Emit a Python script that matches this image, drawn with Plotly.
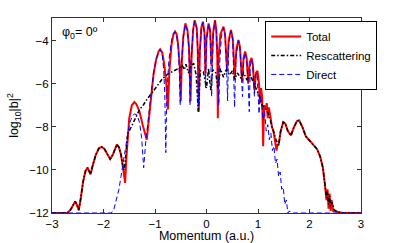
import plotly.graph_objects as go

# Rescattering (black dash-dot)
resc_x = [-3.0, -2.70, -2.64, -2.58, -2.55, -2.52, -2.48, -2.44, -2.40, -2.35, -2.31, -2.28, -2.25, -2.21,
          -2.15, -2.09, -2.04, -1.99, -1.93, -1.87, -1.82, -1.77, -1.74, -1.70, -1.66, -1.62, -1.60, -1.57,
          -1.53, -1.48, -1.44, -1.38, -1.30, -1.23, -1.15, -1.05, -0.95, -0.85, -0.75, -0.65, -0.55, -0.47,
          -0.43, -0.40, -0.35, -0.30, -0.25, -0.20, -0.16, -0.12, -0.06, 0.0, 0.04, 0.08, 0.12, 0.18, 0.22,
          0.27, 0.33, 0.38, 0.45, 0.50, 0.55, 0.60, 0.67, 0.72, 0.78, 0.85, 0.92, 0.98, 1.03, 1.08, 1.13,
          1.18, 1.22, 1.26, 1.30, 1.35, 1.40, 1.44, 1.49, 1.53, 1.58, 1.64, 1.70, 1.76, 1.80, 1.86, 1.93,
          2.01, 2.09, 2.15, 2.21, 2.26, 2.30, 2.33, 2.35, 2.37, 2.39, 2.41, 2.44, 2.48, 2.55, 2.65, 3.0]
resc_y = [-12, -12, -11.85, -11.55, -11.46, -11.6, -11.87, -11.3, -10.6, -10.05, -9.9, -10.05, -10.2, -9.8,
          -9.3, -9.0, -8.93, -9.0, -9.25, -9.5, -9.3, -8.95, -8.82, -8.95, -9.3, -9.9, -10.0, -9.4,
          -8.3, -8.1, -7.9, -7.6, -7.2, -7.0, -6.7, -6.4, -6.05, -5.75, -5.55, -5.42, -5.3, -5.15,
          -5.35, -5.1, -5.5, -5.2, -5.05, -5.6, -7.3, -5.4, -5.45, -6.2, -5.3, -6.3, -5.35, -5.5, -6.2,
          -5.3, -5.7, -5.35, -5.6, -5.4, -5.8, -5.5, -5.75, -5.5, -5.8, -5.6, -6.0, -6.3, -6.6, -7.0, -7.1,
          -7.3, -7.5, -7.9, -8.2, -8.6, -8.85, -8.2, -7.78, -7.85, -8.2, -8.4, -8.0, -7.72, -7.7, -8.0, -8.45,
          -8.65, -8.85, -9.05, -9.4, -9.9, -10.7, -11.3, -11.0, -11.6, -11.2, -11.7, -11.5, -11.85, -11.95, -12, -12]

# Total (red solid)
total_x = [-3.0, -2.70, -2.64, -2.58, -2.55, -2.52, -2.48, -2.44, -2.40, -2.35, -2.31, -2.28, -2.25, -2.21,
           -2.15, -2.09, -2.04, -1.99, -1.93, -1.87, -1.82, -1.77, -1.74, -1.70, -1.66, -1.62,
           -1.60, -1.58, -1.56, -1.53, -1.50, -1.45, -1.40, -1.36, -1.30, -1.24, -1.19, -1.16, -1.13, -1.08,
           -1.03, -0.98, -0.93, -0.90, -0.86, -0.82, -0.78, -0.75, -0.72, -0.68, -0.64, -0.61, -0.58, -0.55,
           -0.52, -0.50, -0.48, -0.45, -0.41, -0.37, -0.34, -0.31, -0.29, -0.26, -0.23, -0.19, -0.17, -0.15,
           -0.13, -0.10, -0.07, -0.04, -0.02, 0.00, 0.04, 0.07, 0.10, 0.13, 0.165, 0.19, 0.21, 0.22, 0.235,
           0.27, 0.33, 0.36, 0.40, 0.43, 0.475, 0.51, 0.55, 0.58, 0.62, 0.65, 0.69, 0.72, 0.75, 0.78, 0.81,
           0.84, 0.875, 0.90, 0.93, 0.96, 0.99, 1.02, 1.04, 1.06, 1.08, 1.10, 1.12, 1.15, 1.17, 1.19, 1.21,
           1.24, 1.27, 1.30, 1.33, 1.36, 1.38, 1.40, 1.44, 1.49, 1.53, 1.58, 1.64, 1.70, 1.76, 1.80, 1.86,
           1.93, 2.01, 2.09, 2.15, 2.21, 2.26, 2.30, 2.33, 2.35, 2.37, 2.39, 2.41, 2.43, 2.46, 2.55, 2.65, 3.0]
total_y = [-12, -12, -11.85, -11.55, -11.46, -11.6, -11.87, -11.3, -10.6, -10.05, -9.9, -10.05, -10.2, -9.8,
           -9.3, -9.0, -8.93, -9.0, -9.25, -9.5, -9.3, -8.95, -8.82, -8.95, -9.3, -9.9,
           -10.2, -10.6, -9.6, -8.4, -7.6, -7.0, -6.85, -6.95, -7.3, -7.9, -8.4, -8.6, -7.9, -6.6,
           -5.6, -4.9, -4.5, -4.40, -4.55, -5.1, -6.0, -7.2, -5.4, -4.2, -3.7, -3.58, -3.7, -4.2,
           -5.2, -6.8, -5.0, -3.8, -3.2, -3.5, -4.3, -6.8, -4.8, -3.5, -3.05, -3.4, -4.4, -7.3,
           -4.5, -3.4, -3.12, -3.6, -5.5, -3.9, -3.2, -3.5, -5.2, -3.6, -3.05, -3.5, -4.8, -7.6, -4.8,
           -3.7, -3.35, -3.7, -5.4, -4.0, -3.5, -3.9, -5.7, -4.4, -3.97, -4.3, -5.9, -4.8, -4.5, -4.8, -6.0,
           -5.0, -4.8, -5.1, -6.3, -5.5, -5.4, -6.0, -6.9, -6.2, -6.6, -8.9, -7.0, -7.2, -6.9, -7.6, -7.1,
           -7.5, -8.0, -8.2, -8.6, -9.1, -8.8, -8.85, -8.2, -7.78, -7.85, -8.2, -8.4, -8.0, -7.72, -7.7, -8.0,
           -8.45, -8.65, -8.85, -9.05, -9.4, -9.9, -10.7, -11.4, -10.9, -11.8, -11.1, -11.9, -11.4, -11.9, -11.95, -12, -12]

# Direct (blue dashed)
direct_x = [-3.0, -1.85, -1.80, -1.75, -1.70, -1.66, -1.62, -1.58, -1.55, -1.50, -1.45, -1.40, -1.35, -1.30,
            -1.26, -1.22, -1.18, -1.13, -1.08, -1.03, -0.98, -0.93, -0.90, -0.86, -0.83, -0.81, -0.79, -0.77,
            -0.73, -0.68, -0.64, -0.61, -0.58, -0.55, -0.53, -0.51, -0.49, -0.45, -0.41, -0.37, -0.34, -0.32,
            -0.30, -0.26, -0.23, -0.19, -0.17, -0.155, -0.13, -0.10, -0.07, -0.04, -0.02, 0.00, 0.04, 0.07,
            0.10, 0.13, 0.165, 0.19, 0.22, 0.24, 0.26, 0.29, 0.33, 0.36, 0.39, 0.41, 0.43, 0.475, 0.51, 0.53,
            0.545, 0.57, 0.62, 0.65, 0.68, 0.70, 0.72, 0.75, 0.78, 0.81, 0.83, 0.85, 0.875, 0.90, 0.93, 0.95,
            0.98, 1.00, 1.02, 1.04, 1.07, 1.10, 1.13, 1.16, 1.19, 1.22, 1.25, 1.28, 1.31, 1.34, 1.37, 1.40,
            1.43, 1.46, 1.49, 1.52, 1.55, 1.58, 1.61, 1.64, 3.0]
direct_y = [-12, -12, -11.85, -11.4, -10.9, -10.3, -9.7, -9.0, -8.5, -7.9, -7.55, -7.4, -7.45, -7.8,
            -8.5, -9.9, -8.7, -7.6, -6.5, -5.5, -4.9, -4.5, -4.42, -4.6, -5.4, -6.5, -9.2, -6.4,
            -4.9, -4.0, -3.65, -3.6, -3.75, -4.3, -5.3, -7.0, -5.2, -3.85, -3.25, -3.55, -4.4, -7.0,
            -4.9, -3.55, -3.1, -3.45, -4.5, -7.0, -4.6, -3.45, -3.15, -3.65, -6.2, -4.0, -3.25, -3.55,
            -6.6, -3.7, -3.1, -3.55, -5.0, -7.0, -4.9, -3.8, -3.4, -3.75, -5.3, -6.8, -4.2, -3.55, -4.0, -5.5,
            -7.1, -4.8, -4.0, -4.4, -5.6, -6.6, -5.0, -4.55, -4.9, -6.0, -7.3, -5.2, -4.85, -5.2, -6.6, -5.6,
            -5.5, -6.2, -7.4, -6.6, -6.9, -7.7, -7.3, -8.2, -7.9, -8.6, -8.3, -9.1, -8.9, -9.7, -9.5, -10.3,
            -10.1, -10.9, -10.8, -11.6, -11.4, -12, -11.9, -12, -12]

x_ticks = [-3, -2, -1, 0, 1, 2, 3]
y_ticks = [-12, -10, -8, -6, -4]

FONT = "Liberation Sans, Arial, sans-serif"

fig = go.Figure()
fig.add_trace(go.Scatter(x=total_x, y=total_y, mode="lines", name="Total",
                         line=dict(color="#ff0000", width=2)))
fig.add_trace(go.Scatter(x=resc_x, y=resc_y, mode="lines", name="Rescattering",
                         line=dict(color="#000000", width=1.5, dash="4px,2px,1.5px,2px")))
fig.add_trace(go.Scatter(x=direct_x, y=direct_y, mode="lines", name="Direct",
                         line=dict(color="#0000ff", width=1, dash="5px,3px")))

axis_common = dict(showline=True, linecolor="#333333", linewidth=1, mirror="ticks",
                   ticks="inside", ticklen=4, tickcolor="#333333", showgrid=False, zeroline=False,
                   automargin=False,
                   tickfont=dict(family=FONT, size=11.5, color="#000"))

fig.update_xaxes(range=[-3, 3], tickvals=x_ticks, ticktext=[str(v).replace("-", "\u2212") for v in x_ticks],
                 title=dict(text="Momentum (a.u.)", font=dict(family=FONT, size=12.5, color="#000"),
                            standoff=1), **axis_common)
fig.update_yaxes(range=[-12, -2.95], tickvals=y_ticks, ticktext=[str(v).replace("-", "\u2212") for v in y_ticks],
                 title=dict(text="log<sub>10</sub>|b|<sup>2</sup>", font=dict(family=FONT, size=12.5, color="#000"),
                            standoff=7), **axis_common)

fig.add_annotation(x=0.025, y=0.925, xref="paper", yref="paper", xanchor="left", yanchor="middle",
                   text="φ<sub>0</sub>= 0º", showarrow=False,
                   font=dict(family=FONT, size=12.5, color="#000"))

fig.update_layout(
    width=399, height=243,
    margin=dict(l=52, r=38, t=18, b=30, autoexpand=False),
    paper_bgcolor="white", plot_bgcolor="white",
    showlegend=True,
    legend=dict(x=0.69, y=0.985, xanchor="left", yanchor="top", bgcolor="white",
                bordercolor="#000", borderwidth=1, itemwidth=30, tracegroupgap=0,
                font=dict(family=FONT, size=11.5, color="#000")),
)

fig.write_html("out.html", config={"displayModeBar": False},
               post_script="document.body.style.margin='0';document.body.style.padding='0';document.body.style.overflow='hidden';")
